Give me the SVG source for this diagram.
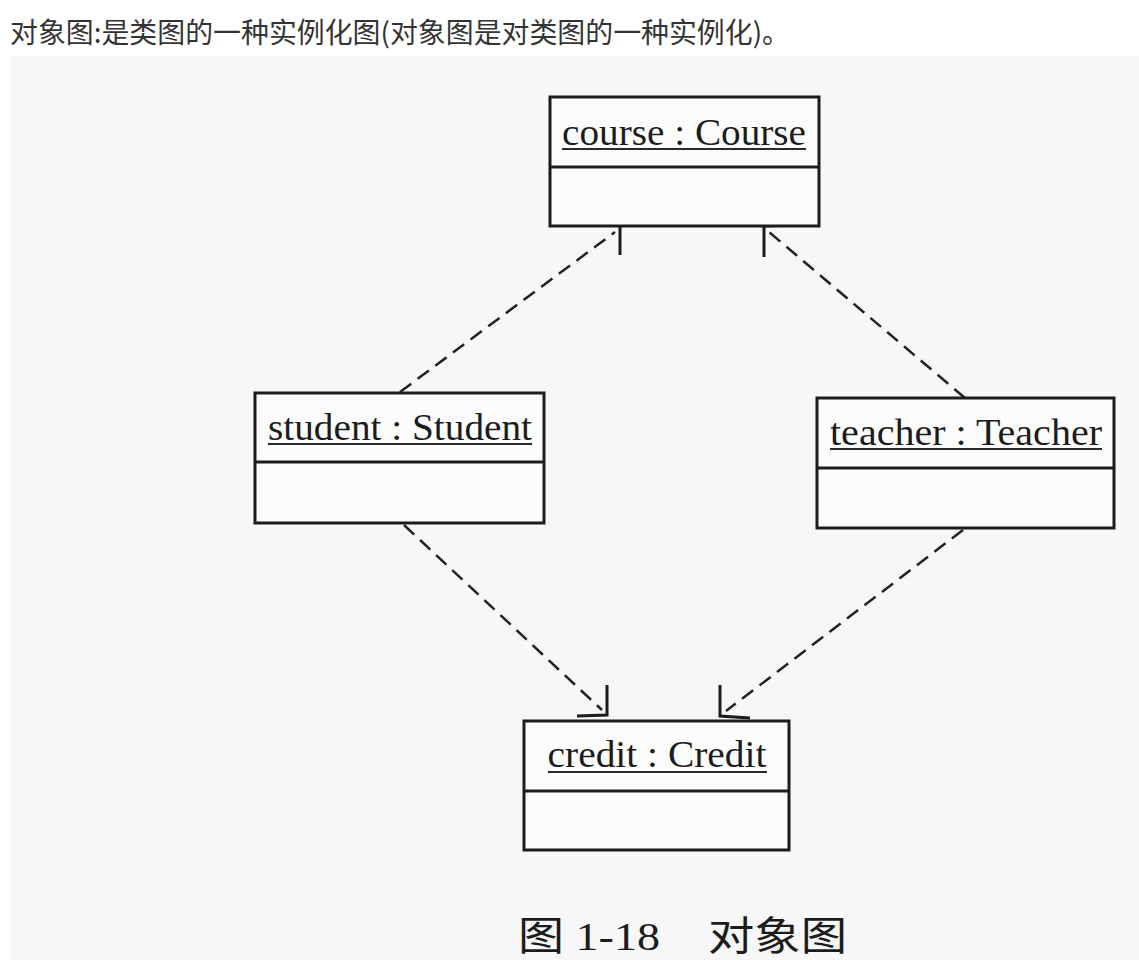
<svg xmlns="http://www.w3.org/2000/svg" width="1139" height="960" viewBox="0 0 1139 960">
<style>
.hdr{font-family:"Noto Sans CJK SC","Noto Sans",sans-serif;font-size:28px;fill:#333}
.box{fill:#fcfcfc;stroke:#1c1c1c;stroke-width:3}
.div{stroke:#1c1c1c;stroke-width:3}
.lbl{font-family:"Liberation Serif","Noto Sans CJK SC",serif;font-size:38px;fill:#1c1c1c;text-anchor:middle}
.ul{stroke:#2a2a2a;stroke-width:2}
.dash{fill:none;stroke:#222;stroke-width:2.5;stroke-dasharray:14 8}
.arr{fill:none;stroke:#1c1c1c;stroke-width:3;stroke-linejoin:miter}
.cap{font-family:"Liberation Serif","Noto Sans CJK SC",serif;font-size:40px;fill:#1c1c1c}
</style>
<rect x="0" y="0" width="1139" height="960" fill="#ffffff"/>
<rect x="10" y="56" width="1129" height="904" fill="#f7f7f7"/>
<text class="hdr" x="10" y="43" textLength="780" lengthAdjust="spacingAndGlyphs">对象图:是类图的一种实例化图(对象图是对类图的一种实例化)。</text>

<g id="connectors">
  <line class="dash" x1="400" y1="392" x2="615" y2="232"/>
  <polyline class="arr" points="595,224 620,225 620,255"/>
  <line class="dash" x1="965" y1="398" x2="769" y2="232"/>
  <polyline class="arr" points="793,225 764,226 764,257"/>
  <line class="dash" x1="404" y1="525" x2="602" y2="710"/>
  <polyline class="arr" points="607,685 607,715 577,716"/>
  <line class="dash" x1="963" y1="530" x2="726" y2="711"/>
  <polyline class="arr" points="720,685 720,716 750,718"/>
</g>

<g id="course">
  <rect class="box" x="550" y="97" width="269" height="129"/>
  <line class="div" x1="550" y1="167" x2="819" y2="167"/>
  <text class="lbl" x="684" y="145" textLength="244" lengthAdjust="spacingAndGlyphs">course : Course</text>
  <line class="ul" x1="562" y1="149" x2="806" y2="149"/>
</g>

<g id="student">
  <rect class="box" x="255" y="393" width="289" height="130"/>
  <line class="div" x1="255" y1="462" x2="544" y2="462"/>
  <text class="lbl" x="400" y="440" textLength="264" lengthAdjust="spacingAndGlyphs">student : Student</text>
  <line class="ul" x1="268" y1="444" x2="532" y2="444"/>
</g>

<g id="teacher">
  <rect class="box" x="817" y="398" width="297" height="130"/>
  <line class="div" x1="817" y1="468" x2="1114" y2="468"/>
  <text class="lbl" x="966" y="445" textLength="272" lengthAdjust="spacingAndGlyphs">teacher : Teacher</text>
  <line class="ul" x1="830" y1="449" x2="1102" y2="449"/>
</g>

<g id="credit">
  <rect class="box" x="524" y="721" width="265" height="129"/>
  <line class="div" x1="524" y1="791" x2="789" y2="791"/>
  <text class="lbl" x="657" y="767" textLength="219" lengthAdjust="spacingAndGlyphs">credit : Credit</text>
  <line class="ul" x1="548" y1="772" x2="767" y2="772"/>
</g>

<text class="cap" x="518" y="950" textLength="142" lengthAdjust="spacingAndGlyphs">图 1-18</text>
<text class="cap" x="708" y="950" textLength="139" lengthAdjust="spacingAndGlyphs">对象图</text>
</svg>
